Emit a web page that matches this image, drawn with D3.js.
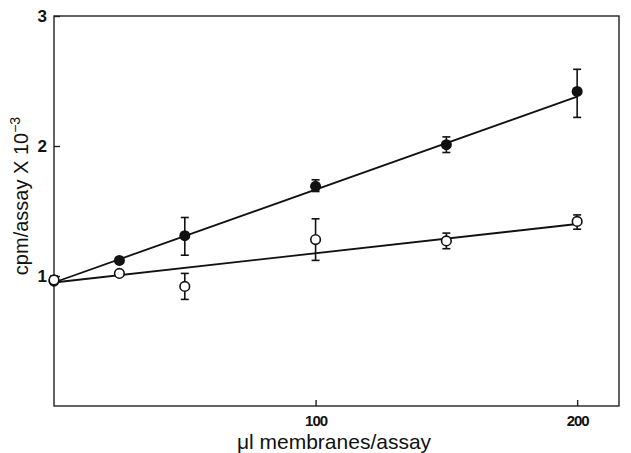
<!DOCTYPE html>
<html>
<head>
<meta charset="utf-8">
<script src="https://cdn.jsdelivr.net/npm/d3@7"></script>
<style>
  body { margin: 0; background: #fff; }
  text { font-family: "Liberation Sans", Arial, sans-serif; fill: #111; }
  .tick text { font-weight: bold; font-size: 17px; }
</style>
</head>
<body>
<div id="chart"></div>
<script>
// data
const doses = [0, 25, 50, 100, 150, 200];

const filledMean = [0.96, 1.12, 1.31, 1.69, 2.01, 2.42];
const filledLo   = [0.96, 1.10, 1.16, 1.65, 1.95, 2.22];
const filledHi   = [0.96, 1.14, 1.45, 1.74, 2.07, 2.59];

const openMean = [0.97, 1.02, 0.92, 1.28, 1.27, 1.42];
const openLo   = [0.97, 1.00, 0.82, 1.12, 1.21, 1.36];
const openHi   = [1.00, 1.04, 1.02, 1.44, 1.33, 1.47];

// fitted regression lines (end points)
const fitX = [0, 200];
const filledFit = [0.95, 2.38];
const openFit = [0.95, 1.40];

const xTicks = [100, 200];
const yTicks = [1, 2, 3];

const svgWidth = 631;
const svgHeight = 453;

const svg = d3.select("#chart")
  .append("svg")
  .attr("width", svgWidth)
  .attr("height", svgHeight);

const x = d3.scaleLinear().domain([0, 216]).range([54, 619]);
const y = d3.scaleLinear().domain([0, 3]).range([406, 16]);

// frame
svg.append("rect")
  .attr("x", x(0))
  .attr("y", y(3))
  .attr("width", x(216) - x(0))
  .attr("height", y(0) - y(3))
  .attr("fill", "none")
  .attr("stroke", "#222")
  .attr("stroke-width", 1.4);

// axes, ticks pointing inward
const yAxis = svg.append("g")
  .attr("transform", `translate(${x(0)},0)`)
  .call(d3.axisLeft(y).tickValues(yTicks).tickFormat(d3.format("d"))
    .tickSizeInner(-6).tickSizeOuter(0).tickPadding(7));
yAxis.select(".domain").remove();

const xAxis = svg.append("g")
  .attr("transform", `translate(0,${y(0)})`)
  .call(d3.axisBottom(x).tickValues(xTicks).tickFormat(d3.format("d"))
    .tickSizeInner(-6).tickSizeOuter(0).tickPadding(9));
xAxis.select(".domain").remove();

svg.selectAll(".tick line").attr("stroke", "#222").attr("stroke-width", 1.4);
xAxis.selectAll(".tick text").style("font-size", "15px").style("letter-spacing", "-1px");

// regression lines
const line = d3.line().x(d => x(d[0])).y(d => y(d[1]));
[filledFit, openFit].forEach(fit => {
  svg.append("path")
    .datum(fitX.map((v, i) => [v, fit[i]]))
    .attr("d", line)
    .attr("fill", "none")
    .attr("stroke", "#111")
    .attr("stroke-width", 1.8);
});

// error bars + markers
function drawSeries(mean, lo, hi, filled) {
  const pts = doses.map((d, i) => ({ x: d, m: mean[i], lo: lo[i], hi: hi[i] }));
  const g = svg.append("g");
  const bars = g.selectAll("g.err").data(pts.filter(p => p.hi - p.lo > 0.001)).enter().append("g");
  bars.append("line")
    .attr("x1", d => x(d.x)).attr("x2", d => x(d.x))
    .attr("y1", d => y(d.lo)).attr("y2", d => y(d.hi));
  bars.append("line")
    .attr("x1", d => x(d.x) - 4).attr("x2", d => x(d.x) + 4)
    .attr("y1", d => y(d.hi)).attr("y2", d => y(d.hi));
  bars.append("line")
    .attr("x1", d => x(d.x) - 4).attr("x2", d => x(d.x) + 4)
    .attr("y1", d => y(d.lo)).attr("y2", d => y(d.lo));
  bars.selectAll("line").attr("stroke", "#111").attr("stroke-width", 1.6);

  g.selectAll("circle").data(pts).enter().append("circle")
    .attr("cx", d => x(d.x))
    .attr("cy", d => y(d.m))
    .attr("r", filled ? 5.5 : 4.8)
    .attr("fill", filled ? "#111" : "#fff")
    .attr("stroke", "#111")
    .attr("stroke-width", filled ? 0 : 1.6);
}
drawSeries(filledMean, filledLo, filledHi, true);
drawSeries(openMean, openLo, openHi, false);

// axis titles
svg.append("text")
  .attr("x", 334)
  .attr("y", 449)
  .attr("text-anchor", "middle")
  .style("font-size", "21px")
  .text("\u03bcl membranes/assay");

const yTitle = svg.append("text")
  .attr("transform", "translate(28,196) rotate(-90)")
  .attr("text-anchor", "middle")
  .style("font-size", "20px");
yTitle.append("tspan").text("cpm/assay X 10");
yTitle.append("tspan").attr("dy", -8).style("font-size", "14px").text("\u22123");
</script>
</body>
</html>
